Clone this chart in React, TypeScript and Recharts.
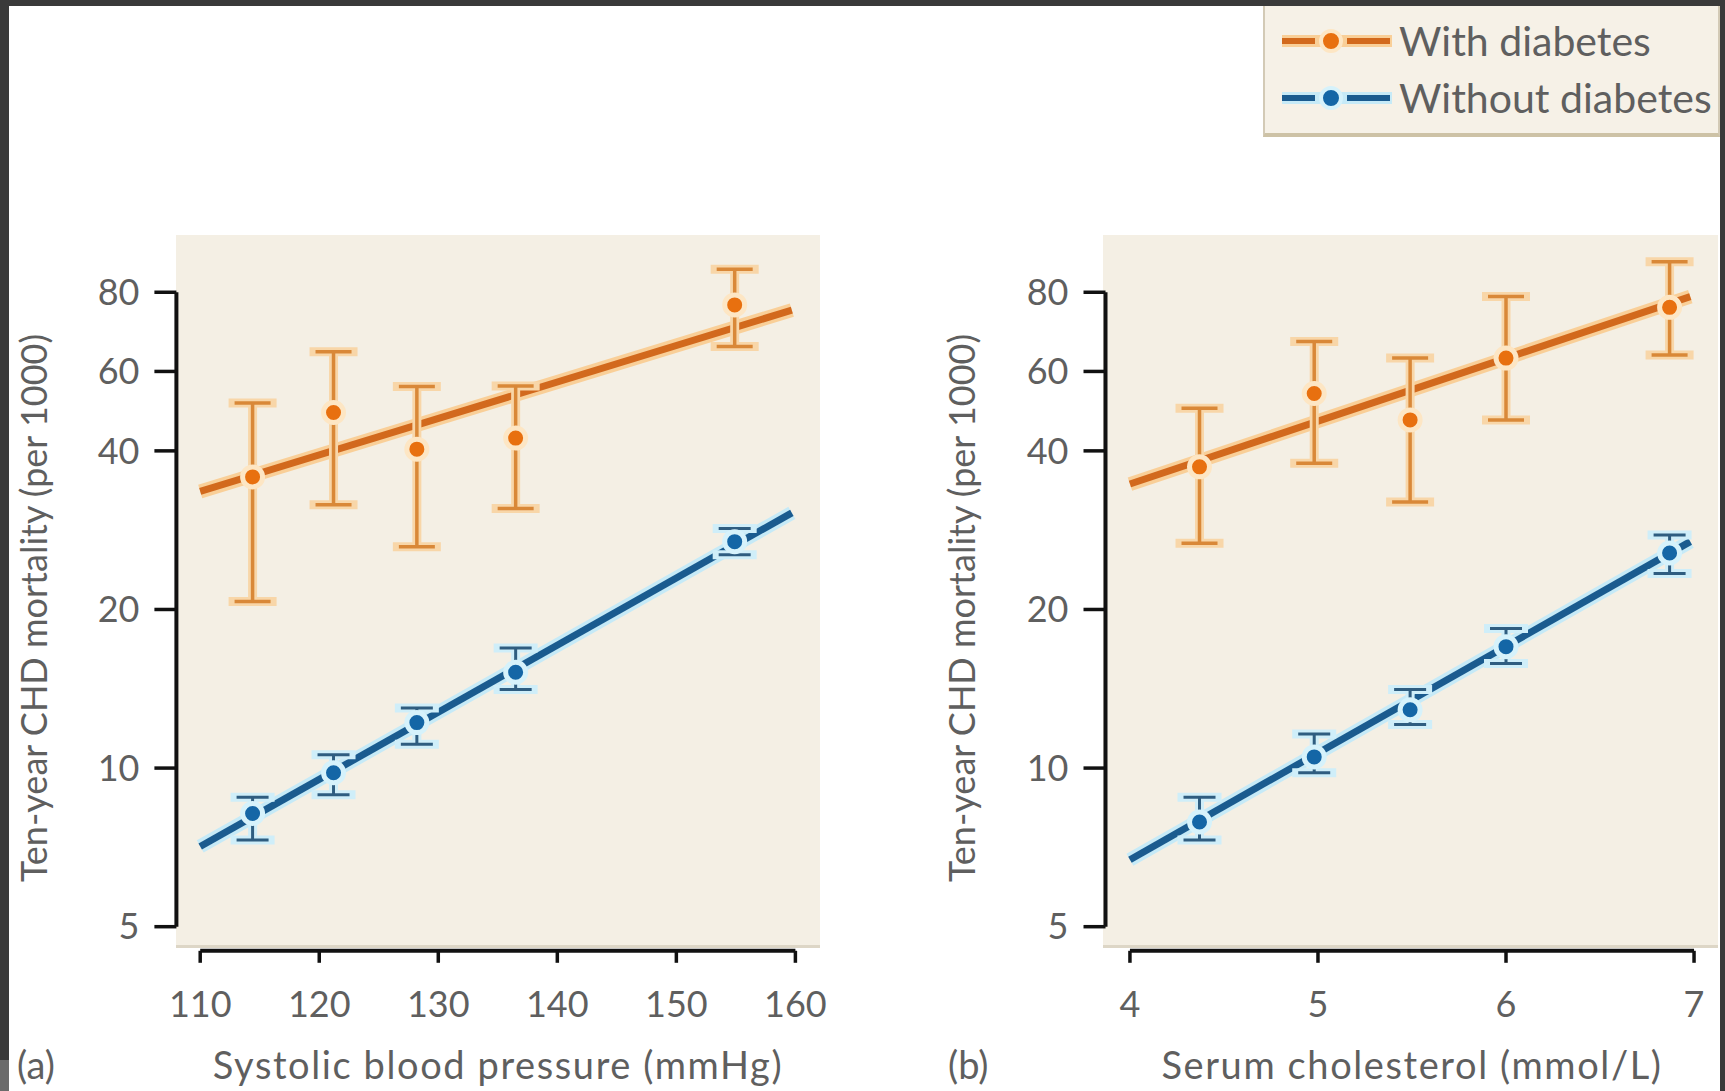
import React from "react";
import {
  ComposedChart,
  ErrorBar,
  Legend,
  Line,
  ReferenceLine,
  Scatter,
  XAxis,
  YAxis,
} from "recharts";

// panel (a): systolic blood pressure
const bpX = [114.4, 121.2, 128.2, 136.5, 154.9];
const bpWith = [35.7, 47.3, 40.3, 42.3, 75.7];
const bpWithLow = [20.7, 31.6, 26.3, 31.1, 63.1];
const bpWithHigh = [49.3, 61.7, 53.0, 53.1, 88.5];
const bpWithout = [8.2, 9.8, 12.2, 15.2, 26.9];
const bpWithoutLow = [7.3, 8.9, 11.1, 14.1, 25.4];
const bpWithoutHigh = [8.8, 10.6, 13.0, 16.9, 28.5];
const bpFitX = [110, 159.7];
const bpFitWith = [33.5, 74.0];
const bpFitWithout = [7.1, 30.5];
const bpTicks = [110, 120, 130, 140, 150, 160];

// panel (b): serum cholesterol
const cholX = [4.37, 4.98, 5.49, 6.0, 6.87];
const cholWith = [37.3, 51.4, 45.8, 60.0, 74.9];
const cholWithLow = [26.7, 37.9, 32.0, 45.8, 60.8];
const cholWithHigh = [48.2, 64.5, 60.0, 78.5, 91.4];
const cholWithout = [7.9, 10.5, 12.9, 17.0, 25.6];
const cholWithoutLow = [7.3, 9.8, 12.1, 15.8, 23.4];
const cholWithoutHigh = [8.8, 11.6, 14.1, 18.4, 27.7];
const cholFitX = [4.0, 6.98];
const cholFitWith = [34.6, 78.5];
const cholFitWithout = [6.7, 26.9];
const cholTicks = [4, 5, 6, 7];

// the printed "60" tick sits halfway between 40 and 80 on the log axis
const yTicks = [5, 10, 20, 40, 56.6, 80];
const yTickLabels = ["5", "10", "20", "40", "60", "80"];

const seriesNames = ["With diabetes", "Without diabetes"];

const FONT = "Lato, 'Open Sans', sans-serif";
const TEXT = "#5f5f5f";
const BG = "#f4efe4";

const ORANGE = {
  line: "#d2691d",
  halo: "#f9cf98",
  dot: "#e8700f",
  ring: "#fde6c4",
  bar: "#d98838",
  barHalo: "#f8d6a8",
};
const BLUE = {
  line: "#1a5b8f",
  halo: "#c6eaf7",
  dot: "#1466a6",
  ring: "#d6f2fb",
  bar: "#2f5d80",
  barHalo: "#cfeef9",
};

type Pt = { x: number; y: number; err?: [number, number] };

const toPoints = (xs: number[], ys: number[], lo: number[], hi: number[]): Pt[] =>
  xs.map((x, i) => ({ x, y: ys[i], err: [ys[i] - lo[i], hi[i] - ys[i]] }));
const toLine = (xs: number[], ys: number[]): Pt[] => xs.map((x, i) => ({ x, y: ys[i] }));

function dotShape(c: typeof ORANGE) {
  return (props: any) => (
    <circle cx={props.cx} cy={props.cy} r={10} fill={c.dot} stroke={c.ring} strokeWidth={5} />
  );
}

function LegendIcon({ c }: { c: typeof ORANGE }) {
  return (
    <svg width={116} height={30} style={{ display: "block" }}>
      <line x1={3} y1={15} x2={113} y2={15} stroke={c.halo} strokeWidth={12} />
      <line x1={3} y1={15} x2={36} y2={15} stroke={c.line} strokeWidth={6} />
      <line x1={68} y1={15} x2={111} y2={15} stroke={c.line} strokeWidth={6} />
      <circle cx={52} cy={15} r={10} fill={c.dot} stroke={c.ring} strokeWidth={4} />
    </svg>
  );
}

function DiabetesLegend() {
  const colors = [ORANGE, BLUE];
  return (
    <div
      style={{
        boxSizing: "border-box",
        width: 457,
        height: 131,
        background: "#f6f1e7",
        borderLeft: "2px solid #d3cab6",
        borderRight: "2px solid #d3cab6",
        borderBottom: "4px solid #cdc2a6",
        paddingTop: 6,
        paddingLeft: 14,
      }}
    >
      {seriesNames.map((name, i) => (
        <div
          key={name}
          style={{ display: "flex", alignItems: "center", height: 57, gap: 4 }}
        >
          <LegendIcon c={colors[i]} />
          <span style={{ fontFamily: FONT, fontSize: 41, color: TEXT, lineHeight: 1 }}>
            {name}
          </span>
        </div>
      ))}
    </div>
  );
}

type PanelProps = {
  width: number;
  margin: { top: number; right: number; bottom: number; left: number };
  xDomain: [number, number];
  xTicks: number[];
  withPts: Pt[];
  withoutPts: Pt[];
  fitWith: Pt[];
  fitWithout: Pt[];
  yLabelX: number;
  xLabelX: number;
  xLabel: string;
  tag: string;
  tagX: number;
  showLegend?: boolean;
};

function Panel(p: PanelProps) {
  const textStyle = { fontFamily: FONT, fill: TEXT };
  return (
    <ComposedChart width={p.width} height={1091} margin={p.margin}>
      <XAxis
        type="number"
        dataKey="x"
        domain={p.xDomain}
        ticks={p.xTicks}
        interval={0}
        allowDataOverflow
        axisLine={false}
        tickLine={{ stroke: "#111", strokeWidth: 3.5 }}
        tickSize={12}
        tickMargin={29}
        height={100}
        tick={{ ...textStyle, fontSize: 36 }}
      />
      <YAxis
        type="number"
        dataKey="y"
        scale="log"
        domain={[4.5, 100]}
        ticks={yTicks}
        interval={0}
        allowDataOverflow
        axisLine={false}
        tickLine={{ stroke: "#111", strokeWidth: 3.5 }}
        tickSize={22}
        tickMargin={15}
        width={100}
        tick={{ ...textStyle, fontSize: 36 }}
        tickFormatter={(v: number) => yTickLabels[yTicks.indexOf(v)] ?? String(v)}
      />
      <ReferenceLine
        segment={[
          { x: p.xDomain[0], y: yTicks[0] },
          { x: p.xDomain[0], y: yTicks[yTicks.length - 1] },
        ]}
        stroke="#111"
        strokeWidth={4}
      />
      <ReferenceLine
        segment={[
          { x: p.xTicks[0], y: 4.5 },
          { x: p.xTicks[p.xTicks.length - 1], y: 4.5 },
        ]}
        stroke="#111"
        strokeWidth={4}
      />

      <Line data={p.fitWith} dataKey="y" stroke={ORANGE.halo} strokeWidth={14} dot={false} isAnimationActive={false} legendType="none" />
      <Line data={p.fitWith} dataKey="y" stroke={ORANGE.line} strokeWidth={7} dot={false} isAnimationActive={false} legendType="none" />
      <Line data={p.fitWithout} dataKey="y" stroke={BLUE.halo} strokeWidth={14} dot={false} isAnimationActive={false} legendType="none" />
      <Line data={p.fitWithout} dataKey="y" stroke={BLUE.line} strokeWidth={7} dot={false} isAnimationActive={false} legendType="none" />

      <Scatter data={p.withPts} dataKey="y" name={seriesNames[0]} shape={dotShape(ORANGE)} isAnimationActive={false}>
        <ErrorBar dataKey="err" direction="y" width={24} strokeWidth={9} stroke={ORANGE.barHalo} />
        <ErrorBar dataKey="err" direction="y" width={18} strokeWidth={3.5} stroke={ORANGE.bar} />
      </Scatter>
      <Scatter data={p.withoutPts} dataKey="y" name={seriesNames[1]} shape={dotShape(BLUE)} isAnimationActive={false}>
        <ErrorBar dataKey="err" direction="y" width={22} strokeWidth={9} stroke={BLUE.barHalo} />
        <ErrorBar dataKey="err" direction="y" width={16} strokeWidth={3} stroke={BLUE.bar} />
      </Scatter>

      {p.showLegend && (
        <Legend
          layout="horizontal"
          verticalAlign="middle"
          align="center"
          content={<DiabetesLegend />}
          wrapperStyle={{ left: 403, top: 6, width: 457, height: 131 }}
        />
      )}

      <text
        x={p.yLabelX}
        y={608}
        transform={`rotate(-90 ${p.yLabelX} 608)`}
        textAnchor="middle"
        dominantBaseline="central"
        fontSize={36}
        style={textStyle}
      >
        Ten-year CHD mortality (per 1000)
      </text>
      <text x={p.xLabelX} y={1079} textAnchor="middle" fontSize={38} letterSpacing={1.6} style={textStyle}>
        {p.xLabel}
      </text>
      <text x={p.tagX} y={1079} fontSize={38} style={textStyle}>
        {p.tag}
      </text>
    </ComposedChart>
  );
}

export default function App() {
  return (
    <div
      style={{
        position: "absolute",
        left: 0,
        top: 0,
        width: 1725,
        height: 1091,
        background: "#ffffff",
        overflow: "hidden",
      }}
    >
      {/* dark frame of the scanned page */}
      <div style={{ position: "absolute", left: 0, top: 0, width: 1725, height: 6, background: "#3a3a3a" }} />
      <div style={{ position: "absolute", left: 0, top: 0, width: 9, height: 1060, background: "#3a3a3a" }} />
      <div style={{ position: "absolute", left: 0, top: 1060, width: 9, height: 31, background: "#6b6b6b" }} />
      <div style={{ position: "absolute", left: 1720, top: 0, width: 5, height: 1091, background: "#3a3a3a" }} />

      {/* plot backgrounds */}
      <div style={{ position: "absolute", left: 176, top: 235, width: 644, height: 710, background: BG, borderBottom: "3px solid #ddd6c6" }} />
      <div style={{ position: "absolute", left: 1103, top: 235, width: 615, height: 710, background: BG, borderBottom: "3px solid #ddd6c6" }} />

      <div style={{ position: "absolute", left: 0, top: 0 }}>
        <Panel
          width={860}
          margin={{ top: 241.2, right: 40.8, bottom: 40.2, left: 76.4 }}
          xDomain={[108, 162]}
          xTicks={bpTicks}
          withPts={toPoints(bpX, bpWith, bpWithLow, bpWithHigh)}
          withoutPts={toPoints(bpX, bpWithout, bpWithoutLow, bpWithoutHigh)}
          fitWith={toLine(bpFitX, bpFitWith)}
          fitWithout={toLine(bpFitX, bpFitWithout)}
          yLabelX={33}
          xLabelX={498}
          xLabel="Systolic blood pressure (mmHg)"
          tag="(a)"
          tagX={17}
        />
      </div>
      <div style={{ position: "absolute", left: 860, top: 0 }}>
        <Panel
          width={865}
          margin={{ top: 241.2, right: 8.4, bottom: 40.2, left: 145.5 }}
          xDomain={[3.87, 7.12]}
          xTicks={cholTicks}
          withPts={toPoints(cholX, cholWith, cholWithLow, cholWithHigh)}
          withoutPts={toPoints(cholX, cholWithout, cholWithoutLow, cholWithoutHigh)}
          fitWith={toLine(cholFitX, cholFitWith)}
          fitWithout={toLine(cholFitX, cholFitWithout)}
          yLabelX={101}
          xLabelX={552}
          xLabel="Serum cholesterol (mmol/L)"
          tag="(b)"
          tagX={88}
          showLegend
        />
      </div>
    </div>
  );
}
